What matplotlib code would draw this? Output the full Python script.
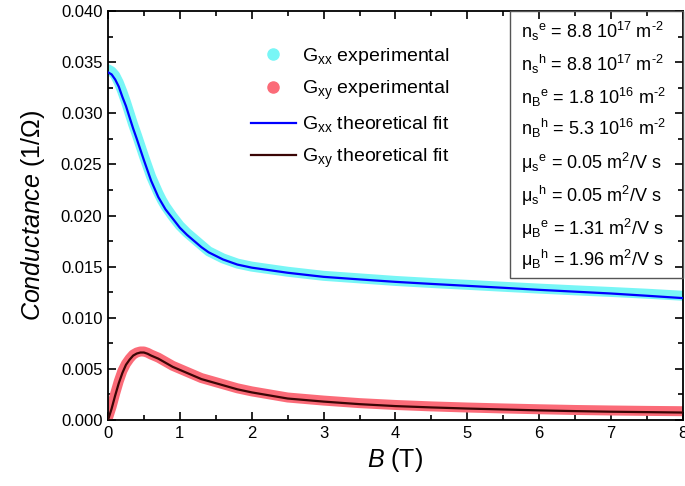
import matplotlib
matplotlib.use("Agg")
import matplotlib.pyplot as plt
from matplotlib.lines import Line2D
from matplotlib.patches import Rectangle
from matplotlib.ticker import MultipleLocator, FormatStrFormatter

plt.rcParams['font.family'] = ['Liberation Sans', 'DejaVu Sans']
plt.rcParams['mathtext.fontset'] = 'custom'
plt.rcParams['mathtext.rm'] = 'Liberation Sans'
plt.rcParams['mathtext.it'] = 'Liberation Sans:italic'
plt.rcParams['mathtext.bf'] = 'Liberation Sans:bold'

# Magnetic field (T)
B = [0, 0.05, 0.1, 0.15, 0.2, 0.25, 0.3, 0.35, 0.4, 0.45, 0.5, 0.55, 0.6,
     0.65, 0.7, 0.75, 0.8, 0.85, 0.9, 0.95, 1.0, 1.1, 1.2, 1.3, 1.4, 1.6,
     1.8, 2.0, 2.5, 3.0, 3.5, 4.0, 4.5, 5.0, 5.5, 6.0, 6.5, 7.0, 7.5, 8.0]

# Theoretical fits
gxx_fit = [0.0340, 0.0338, 0.0333, 0.0326, 0.0316, 0.0307, 0.0296, 0.0285,
           0.0275, 0.02645, 0.0254, 0.0244, 0.0234, 0.0226, 0.0218, 0.0212,
           0.0206, 0.02015, 0.0197, 0.01925, 0.0188, 0.0181, 0.0175, 0.0169,
           0.0164, 0.0157, 0.0152, 0.0149, 0.0144, 0.0140, 0.01375, 0.01351,
           0.01331, 0.01312, 0.01293, 0.01273, 0.01255, 0.01237, 0.01215,
           0.01192]
gxy_fit = [0.0, 0.0011, 0.0024, 0.0036, 0.0046, 0.0054, 0.0059, 0.0063,
           0.0065, 0.0066, 0.0066, 0.00648, 0.0063, 0.00615, 0.0060, 0.0058,
           0.0056, 0.0054, 0.0052, 0.00505, 0.0049, 0.0046, 0.0043, 0.0040,
           0.0038, 0.0034, 0.0030, 0.0027, 0.0021, 0.00180, 0.00155, 0.00136,
           0.00123, 0.00112, 0.00103, 0.00094, 0.00087, 0.00081, 0.00077,
           0.00073]

# Experimental data
gxx_exp = [0.0343, 0.0341, 0.0337, 0.0330, 0.0321, 0.0311, 0.0300, 0.0289,
           0.0279, 0.02685, 0.0258, 0.0248, 0.0238, 0.0230, 0.0222, 0.0215,
           0.0209, 0.0204, 0.0199, 0.01945, 0.0190, 0.0183, 0.0177, 0.0171,
           0.0165, 0.0158, 0.0153, 0.0150, 0.0145, 0.0141, 0.01385, 0.01360,
           0.01340, 0.01322, 0.01303, 0.01285, 0.01268, 0.01252, 0.01235,
           0.01215]
gxy_exp = [0.0002, 0.0013, 0.0026, 0.0038, 0.0048, 0.0055, 0.0060, 0.0064,
           0.0066, 0.0067, 0.0067, 0.00658, 0.0064, 0.00625, 0.0061, 0.0059,
           0.0057, 0.0055, 0.0053, 0.00515, 0.0050, 0.0047, 0.0044, 0.0041,
           0.0039, 0.0035, 0.0031, 0.0028, 0.0022, 0.00190, 0.00165, 0.00147,
           0.00133, 0.00122, 0.00113, 0.00105, 0.00098, 0.00093, 0.00089,
           0.00086]

H_ = '\u2010'
params = [
    r'n$_\mathregular{s}$$^\mathregular{e}$ = 8.8 10$^\mathregular{17}$ m$^\mathregular{' + H_ + '2}$',
    r'n$_\mathregular{s}$$^\mathregular{h}$ = 8.8 10$^\mathregular{17}$ m$^\mathregular{' + H_ + '2}$',
    r'n$_\mathregular{B}$$^\mathregular{e}$ = 1.8 10$^\mathregular{16}$ m$^\mathregular{' + H_ + '2}$',
    r'n$_\mathregular{B}$$^\mathregular{h}$ = 5.3 10$^\mathregular{16}$ m$^\mathregular{' + H_ + '2}$',
    r'μ$_\mathregular{s}$$^\mathregular{e}$ = 0.05 m$^\mathregular{2}$/V s',
    r'μ$_\mathregular{s}$$^\mathregular{h}$ = 0.05 m$^\mathregular{2}$/V s',
    r'μ$_\mathregular{B}$$^\mathregular{e}$ = 1.31 m$^\mathregular{2}$/V s',
    r'μ$_\mathregular{B}$$^\mathregular{h}$ = 1.96 m$^\mathregular{2}$/V s',
]

W, H = 685, 486
fig = plt.figure(figsize=(W / 100, H / 100), dpi=100)
x0, x1, y0, y1 = 108, 683, 11, 420
ax = fig.add_axes([x0 / W, 1 - y1 / H, (x1 - x0) / W, (y1 - y0) / H])

cyan = '#78f6f6'
pink = '#fb6b78'
ax.plot(B, gxx_exp, color=cyan, lw=7.2, solid_capstyle='round', zorder=2)
ax.plot(B, gxy_exp, color=pink, lw=7.2, solid_capstyle='round', zorder=2)
ax.plot(B, gxx_fit, color='#0000ff', lw=1.6, zorder=3)
ax.plot(B, gxy_fit, color='#3a0505', lw=1.6, zorder=3)

ax.set_xlim(0, 8)
ax.set_ylim(0, 0.04)
ax.xaxis.set_major_locator(MultipleLocator(1))
ax.xaxis.set_minor_locator(MultipleLocator(0.5))
ax.yaxis.set_major_locator(MultipleLocator(0.005))
ax.yaxis.set_minor_locator(MultipleLocator(0.0025))
ax.yaxis.set_major_formatter(FormatStrFormatter('%.3f'))
ax.tick_params(which='both', direction='in', top=True, right=True,
               labelsize=12, width=1.2)
ax.tick_params(which='major', length=6, pad=4)
ax.tick_params(which='minor', length=3.5)
for s in ax.spines.values():
    s.set_linewidth(1.3)

ax.set_xlabel(r'$\mathit{B}$ (T)', fontsize=18, labelpad=4)
ax.set_ylabel(r'$\mathit{Conductance}$ (1/Ω)', fontsize=18, labelpad=10)

handles = [
    Line2D([], [], ls='none', marker='o', ms=8, color=cyan),
    Line2D([], [], ls='none', marker='o', ms=8, color=pink),
    Line2D([], [], color='#0000ff', lw=1.6),
    Line2D([], [], color='#3a0505', lw=1.6),
]
labels = [r'G$_\mathregular{xx}$ experimental', r'G$_\mathregular{xy}$ experimental',
          r'G$_\mathregular{xx}$ theoretical fit', r'G$_\mathregular{xy}$ theoretical fit']
fig.legend(handles, labels, loc='upper left', bbox_to_anchor=(251 / W, 1 - 46 / H),
           frameon=False, fontsize=14, handlelength=2.3, handletextpad=0.3,
           labelspacing=0.62, borderpad=0, borderaxespad=0)

# parameter box
bx0, by0, by1 = 510, 11, 278
fig.patches.append(Rectangle((bx0 / W, 1 - by1 / H), (x1 - bx0) / W, (by1 - by0) / H,
                             transform=fig.transFigure, fill=False,
                             edgecolor='#555555', lw=1.0, zorder=5))
ys = [31, 64, 97, 128, 163, 196, 229, 260]
for yy, t in zip(ys, params):
    fig.text(521 / W, 1 - yy / H, t, fontsize=13, va='center', ha='left')

fig.savefig('out.png', dpi=100)
